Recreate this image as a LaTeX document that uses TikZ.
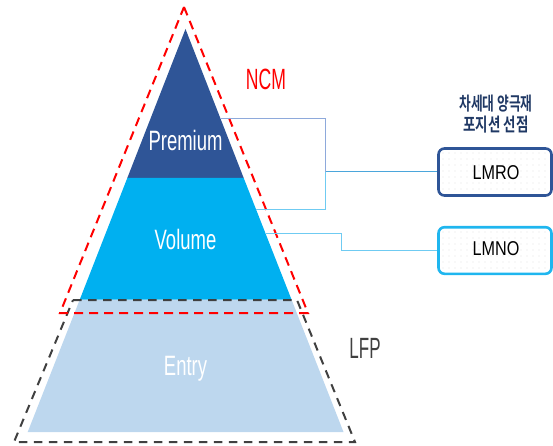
\documentclass[tikz,border=0pt]{standalone}
\usepackage{fontspec}
\setmainfont{Liberation Sans}
\newfontfamily\krfont{Noto Sans CJK KR}[BoldFont={Noto Sans CJK KR Bold}]
\usepackage{graphicx}
\definecolor{prem}{HTML}{2F5597}
\definecolor{vol}{HTML}{00B0F0}
\definecolor{entryc}{HTML}{BDD7EE}
\definecolor{ncmred}{HTML}{FF0000}
\definecolor{lfpgray}{HTML}{404040}
\definecolor{navy}{HTML}{1F3864}
\definecolor{upline}{HTML}{8EA9DB}
\definecolor{lowline}{HTML}{6FCBF2}
\definecolor{midline}{HTML}{4BA6DB}
\definecolor{lmnoc}{HTML}{1FB6EF}
\definecolor{dotc}{HTML}{E4E4E4}
\newcommand{\sqz}[3]{\scalebox{#1}[1]{\fontsize{#2}{#2}\selectfont #3}}
\tikzset{
  reddash/.style={draw=ncmred, line width=2pt, dash pattern=on 9pt off 6pt},
  blackdash/.style={draw=lfpgray, line width=2pt, dash pattern=on 8.5pt off 6.5pt},
  layertext/.style={text=white, anchor=base, inner sep=0pt},
  boxtext/.style={text=black, anchor=base, inner sep=0pt},
  conn/.style={line width=1pt},
  selbox/.style={rounded corners=6pt, line width=2.6pt, fill=white},
}
\begin{document}
\begin{tikzpicture}[x=1pt,y=-1pt]
\useasboundingbox (0,0) rectangle (553,446);
% layers
\fill[prem] (185.5,29) -- (243.7,178) -- (127.3,178) -- cycle;
\fill[vol] (127.3,178) -- (243.7,178) -- (291.5,299.5) -- (79.8,299.5) -- cycle;
\fill[entryc] (79.6,300) -- (291.7,300) -- (343.5,432) -- (27.7,432) -- cycle;
\node[layertext] (premium) at (185.5,150.7) {\sqz{0.66}{28}{Premium}};
\node[layertext] (volume) at (185.5,249.3) {\sqz{0.66}{28}{Volume}};
\node[layertext] (entry) at (185.5,375) {\sqz{0.66}{28}{Entry}};
% dashed outlines
\draw[blackdash] (73,300) -- (297,300) -- (355,442) -- (14,442) -- cycle;
\draw[reddash] (184,7) -- (308,313) -- (60,313) -- cycle;
\node[anchor=base, inner sep=0pt, text=ncmred] (ncm) at (266,89.3) {\sqz{0.6}{29.3}{NCM}};
\node[anchor=base, inner sep=0pt, text=lfpgray] (lfp) at (365,358.3) {\sqz{0.58}{29.3}{LFP}};
% heading
\node[anchor=base, inner sep=0pt, text=navy] (h1) at (496,110.5) {\sqz{0.69}{18.5}{\krfont\bfseries 차세대 양극재}};
\node[anchor=base, inner sep=0pt, text=navy] (h2) at (496,131.4) {\sqz{0.73}{18.5}{\krfont\bfseries 포지션 선점}};
% boxes
\draw[selbox, draw=prem] (438.5,148.5) rectangle (551.5,195.5);
\begin{scope}
  \clip[rounded corners=5pt] (439.8,149.8) rectangle (550.2,194.2);
  \foreach \xx in {443,449,...,551} \foreach \yy in {153,159,...,195} \fill[dotc] (\xx,\yy) circle (0.6);
\end{scope}
\draw[selbox, draw=lmnoc] (438.5,227.2) rectangle (551.5,273.8);
\begin{scope}
  \clip[rounded corners=5pt] (439.8,228.5) rectangle (550.2,272.5);
  \foreach \xx in {443,449,...,551} \foreach \yy in {232,238,...,274} \fill[dotc] (\xx,\yy) circle (0.6);
\end{scope}
\node[minimum width=115pt, minimum height=49pt, inner sep=0pt] (lmro) at (495,172) {};
\node[minimum width=115pt, minimum height=49pt, inner sep=0pt] (lmno) at (495,250.5) {};
\node[boxtext] (lmrot) at (496,179.3) {\sqz{0.81}{20}{LMRO}};
\node[boxtext] (lmnot) at (496,255.3) {\sqz{0.81}{20}{LMNO}};
% connectors
\coordinate (p1) at (220.8,119);
\coordinate (v1) at (256,209);
\coordinate (jn) at (325.5,172);
\coordinate (v2) at (265.5,233);
\coordinate (k2) at (341.7,233);
\draw[conn, upline] (p1) -| (jn);
\draw[conn, lowline] (v1) -| (jn);
\draw[conn, midline] (jn) -- (lmro.west);
\draw[conn, lowline] (v2) -- (k2) |- (lmno.west);
\end{tikzpicture}
\end{document}
